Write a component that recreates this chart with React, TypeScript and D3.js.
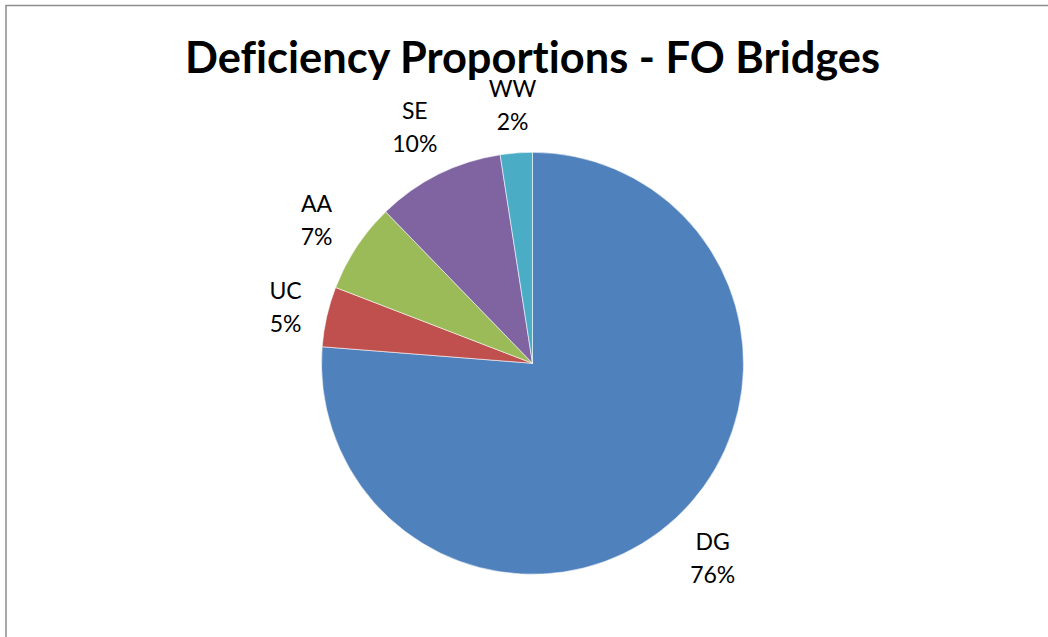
import React from "react";
import * as d3 from "d3";

const categories = ["DG", "UC", "AA", "SE", "WW"];
const values = [76.25, 4.6, 6.9, 9.8, 2.45];
const colors = ["#4F81BD", "#C0504D", "#9BBB59", "#8064A2", "#4BACC6"];
const title = "Deficiency Proportions - FO Bridges";

const W = 1048;
const H = 637;
const cx = 532.5;
const cy = 363.3;
const R = 211;
const labelR = 232;
const labelFont = 23;
const capH = 16.5;
const lineGap = 33;
const fontFamily = "Lato, 'Liberation Sans', sans-serif";

function measure(text: string, font: string): number {
  if (typeof document === "undefined") return text.length * 12;
  const c = document.createElement("canvas");
  const ctx = c.getContext("2d");
  if (!ctx) return text.length * 12;
  ctx.font = font;
  return ctx.measureText(text).width;
}

export default function App() {
  const total = d3.sum(values);
  const data = categories.map((c, i) => ({ c, v: values[i], color: colors[i] }));
  const pie = d3
    .pie<any>()
    .sort(null)
    .value((d: any) => d.v)
    .startAngle(0)
    .endAngle(2 * Math.PI);
  const arcs = pie(data);
  const arc = d3.arc<any>().innerRadius(0).outerRadius(R);

  const blockH = capH + lineGap;
  const noLig = { fontVariantLigatures: "none", fontFeatureSettings: '"liga" 0, "clig" 0' } as any;

  return (
    <svg
      width={W}
      height={H}
      style={{ position: "absolute", left: 0, top: 0, background: "#fff" }}
    >
      <rect x={6} y={5.5} width={1100} height={700} fill="#fff" stroke="#8c8c8c" strokeWidth={1.5} />
      <text
        x={cx}
        y={73}
        textAnchor="middle"
        fontFamily={fontFamily}
        fontWeight="bold"
        fontSize={43}
        textLength={695}
        lengthAdjust="spacingAndGlyphs"
        fill="#000"
        style={noLig}
      >
        {title}
      </text>
      <g transform={`translate(${cx},${cy})`}>
        {arcs.map((a: any, i: number) => (
          <path key={i} d={arc(a) as string} fill={a.data.color} stroke="#ffffff" strokeWidth={0.7} strokeOpacity={0.8} />
        ))}
      </g>
      {arcs.map((a: any, i: number) => {
        const mid = (a.startAngle + a.endAngle) / 2;
        const ux = Math.sin(mid);
        const uy = -Math.cos(mid);
        const pct = `${Math.round((a.data.v / total) * 100)}%`;
        const font = `${labelFont}px Lato`;
        const w = Math.max(measure(a.data.c, font), measure(pct, font));
        const off = Math.abs(ux) * (w / 2) + Math.abs(uy) * (blockH / 2);
        const lx = cx + ux * (labelR + off);
        const ly = cy + uy * (labelR + off);
        const top = ly - blockH / 2;
        return (
          <g key={`l${i}`} fontFamily={fontFamily} fontSize={labelFont} fill="#000" textAnchor="middle" style={noLig}>
            <text x={lx} y={top + capH}>{a.data.c}</text>
            <text x={lx} y={top + capH + lineGap}>{pct}</text>
          </g>
        );
      })}
    </svg>
  );
}
